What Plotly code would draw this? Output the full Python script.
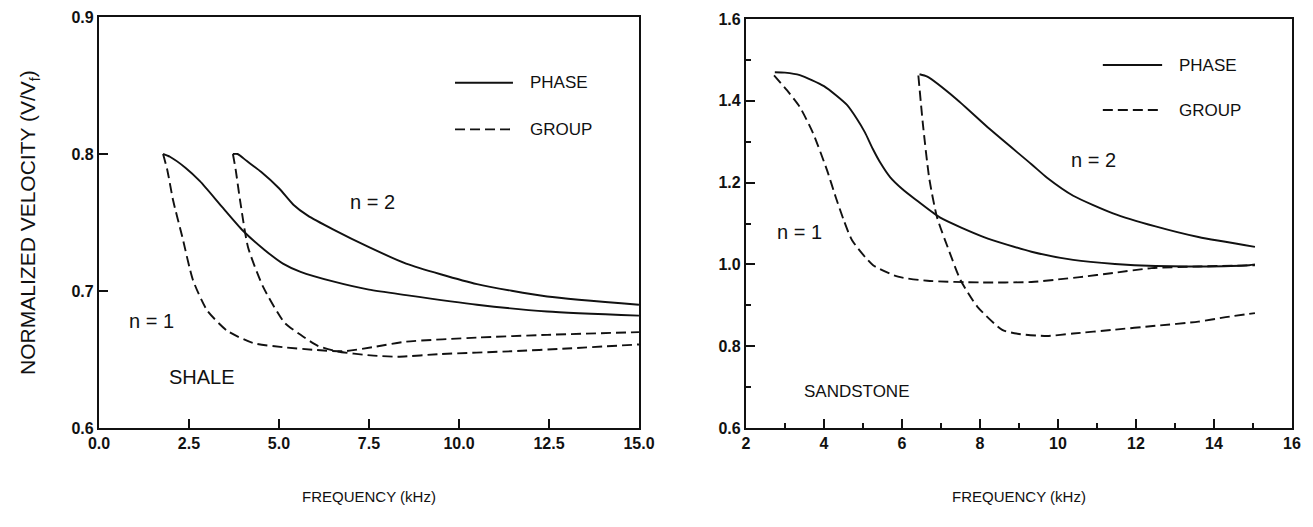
import plotly.graph_objects as go

# ---------------- data: SHALE (left panel) ----------------
shale_n1_phase_x = [1.78, 1.97, 2.4, 2.81, 3.4, 4.0, 4.6, 5.11, 5.6, 6.5, 7.5, 8.53, 10.5, 12.45, 15.0]
shale_n1_phase_y = [0.800, 0.798, 0.790, 0.780, 0.762, 0.744, 0.730, 0.720, 0.714, 0.707, 0.701, 0.697, 0.690, 0.685, 0.682]
shale_n2_phase_x = [3.72, 3.85, 4.1, 4.5, 5.0, 5.4, 5.8, 6.5, 7.5, 8.53, 10.5, 12.45, 15.0]
shale_n2_phase_y = [0.800, 0.800, 0.795, 0.787, 0.775, 0.763, 0.755, 0.745, 0.732, 0.720, 0.705, 0.696, 0.690]
shale_n1_group_x = [1.78, 1.9, 2.06, 2.31, 2.61, 3.0, 3.56, 4.28, 5.11, 6.0, 6.8, 7.6, 8.53, 10.5, 12.45, 15.0]
shale_n1_group_y = [0.800, 0.788, 0.766, 0.740, 0.708, 0.686, 0.671, 0.662, 0.659, 0.657, 0.656, 0.659, 0.663, 0.666, 0.668, 0.670]
shale_n2_group_x = [3.72, 3.8, 3.92, 4.14, 4.56, 5.15, 5.6, 6.08, 6.6, 7.55, 8.3, 9.5, 11.45, 13.0, 15.0]
shale_n2_group_y = [0.800, 0.788, 0.766, 0.732, 0.703, 0.677, 0.668, 0.660, 0.656, 0.653, 0.652, 0.654, 0.656, 0.658, 0.661]

# ---------------- data: SANDSTONE (right panel) ----------------
sand_n1_phase_x = [2.74, 3.0, 3.38, 4.0, 4.59, 4.85, 5.05, 5.25, 5.45, 5.7, 6.0, 6.33, 6.97, 8.1, 9.32, 10.39, 11.46, 12.5, 13.6, 14.9, 15.05]
sand_n1_phase_y = [1.470, 1.469, 1.463, 1.436, 1.390, 1.355, 1.323, 1.283, 1.248, 1.213, 1.185, 1.160, 1.115, 1.067, 1.031, 1.011, 1.001, 0.996, 0.995, 0.998, 1.000]
sand_n2_phase_x = [6.45, 6.65, 7.4, 8.25, 9.32, 9.72, 10.39, 11.41, 12.5, 13.6, 15.05]
sand_n2_phase_y = [1.465, 1.459, 1.404, 1.331, 1.245, 1.212, 1.168, 1.125, 1.093, 1.067, 1.043]
sand_n1_group_x = [2.72, 3.05, 3.38, 3.72, 4.08, 4.3, 4.5, 4.72, 5.26, 5.9, 6.65, 8.0, 9.32, 10.07, 10.56, 11.41, 12.4, 13.6, 15.05]
sand_n1_group_y = [1.462, 1.426, 1.385, 1.321, 1.230, 1.165, 1.110, 1.059, 0.998, 0.970, 0.960, 0.956, 0.957, 0.964, 0.969, 0.979, 0.991, 0.995, 0.998]
sand_n2_group_x = [6.42, 6.54, 6.7, 6.9, 7.2, 7.5, 7.93, 8.57, 9.0, 9.72, 10.39, 11.41, 12.5, 13.6, 14.3, 15.05]
sand_n2_group_y = [1.462, 1.340, 1.210, 1.115, 1.035, 0.962, 0.897, 0.840, 0.830, 0.825, 0.831, 0.840, 0.850, 0.860, 0.871, 0.881]

# ---------------- tick labels ----------------
shale_xticks = [0.0, 2.5, 5.0, 7.5, 10.0, 12.5, 15.0]
shale_xtick_text = ["0.0", "2.5", "5.0", "7.5", "10.0", "12.5", "15.0"]
shale_yticks = [0.6, 0.7, 0.8, 0.9]
sand_xticks = [2, 4, 6, 8, 10, 12, 14, 16]
sand_yticks = [0.6, 0.8, 1.0, 1.2, 1.4, 1.6]

INK = "#111111"
FONT = "Arial, Liberation Sans, Helvetica, sans-serif"
DASH = "10px,5px"
LW = 1.9

fig = go.Figure()

def add_curve(x, y, dashed, xa, ya):
    fig.add_trace(go.Scatter(
        x=x, y=y, mode="lines", xaxis=xa, yaxis=ya, showlegend=False,
        line=dict(color=INK, width=LW, dash=DASH if dashed else "solid",
                  shape="spline", smoothing=0.6),
        hoverinfo="skip"))

add_curve(shale_n1_phase_x, shale_n1_phase_y, False, "x", "y")
add_curve(shale_n2_phase_x, shale_n2_phase_y, False, "x", "y")
add_curve(shale_n1_group_x, shale_n1_group_y, True, "x", "y")
add_curve(shale_n2_group_x, shale_n2_group_y, True, "x", "y")
add_curve(sand_n1_phase_x, sand_n1_phase_y, False, "x2", "y2")
add_curve(sand_n2_phase_x, sand_n2_phase_y, False, "x2", "y2")
add_curve(sand_n1_group_x, sand_n1_group_y, True, "x2", "y2")
add_curve(sand_n2_group_x, sand_n2_group_y, True, "x2", "y2")

tickfont = dict(family=FONT, size=16, color=INK, weight="bold")
common = dict(showline=True, linewidth=2.2, linecolor=INK, mirror=True,
              ticks="inside", ticklen=9, tickwidth=2, tickcolor=INK,
              showgrid=False, zeroline=False, tickfont=tickfont, automargin=False)

xtitle_font = dict(family=FONT, size=15, color=INK)

# page body has an 8px margin, so the figure is sized to fit inside the 1313x527 window
fig.update_layout(
    width=1297, height=511,
    margin=dict(l=91, r=13, t=9, b=91),
    paper_bgcolor="white", plot_bgcolor="white",
    xaxis=dict(domain=[0, 0.4526], range=[0, 15], tickvals=shale_xticks,
               ticktext=shale_xtick_text, anchor="y",
               title=dict(text="FREQUENCY (kHz)", font=xtitle_font, standoff=40),
               **common),
    yaxis=dict(domain=[0, 1], range=[0.6, 0.9], tickvals=shale_yticks, tickformat=".1f",
               anchor="x",
               title=dict(text="NORMALIZED VELOCITY (V/V<sub>f</sub>)",
                          font=dict(family=FONT, size=21, color=INK), standoff=30),
               **common),
    xaxis2=dict(domain=[0.5423, 1], range=[2, 16], tickvals=sand_xticks, anchor="y2",
                minor=dict(dtick=1, ticks="inside", ticklen=5, tickwidth=2, tickcolor=INK),
                title=dict(text="FREQUENCY (kHz)", font=xtitle_font, standoff=40),
                **common),
    yaxis2=dict(domain=[0, 0.995], range=[0.6, 1.6], tickvals=sand_yticks, tickformat=".1f",
                anchor="x2",
                minor=dict(dtick=0.1, ticks="inside", ticklen=5, tickwidth=2, tickcolor=INK),
                **common),
)

# legend samples and labels
legend_font = dict(family=FONT, size=17, color=INK)

def legend(xa, ya, x0, x1, xt, y_phase, y_group):
    fig.add_shape(type="line", xref=xa, yref=ya, x0=x0, x1=x1, y0=y_phase, y1=y_phase,
                  line=dict(color=INK, width=LW))
    fig.add_shape(type="line", xref=xa, yref=ya, x0=x0, x1=x1, y0=y_group, y1=y_group,
                  line=dict(color=INK, width=LW, dash=DASH))
    fig.add_annotation(xref=xa, yref=ya, x=xt, y=y_phase, text="PHASE", showarrow=False,
                       xanchor="left", font=legend_font)
    fig.add_annotation(xref=xa, yref=ya, x=xt, y=y_group, text="GROUP", showarrow=False,
                       xanchor="left", font=legend_font)

legend("x", "y", 9.89, 11.5, 11.92, 0.852, 0.818)
legend("x2", "y2", 11.15, 12.67, 13.05, 1.4875, 1.3775)

def label(xa, ya, x, y, text, size):
    fig.add_annotation(xref=xa, yref=ya, x=x, y=y, text=text, showarrow=False,
                       font=dict(family=FONT, size=size, color=INK))

label("x", "y", 7.6, 0.765, "n = 2", 20)
label("x", "y", 1.47, 0.678, "n = 1", 20)
label("x", "y", 2.86, 0.637, "SHALE", 20)
label("x2", "y2", 10.9, 1.255, "n = 2", 20)
label("x2", "y2", 3.38, 1.079, "n = 1", 20)
label("x2", "y2", 4.85, 0.690, "SANDSTONE", 17)

fig.write_html("out.html")
